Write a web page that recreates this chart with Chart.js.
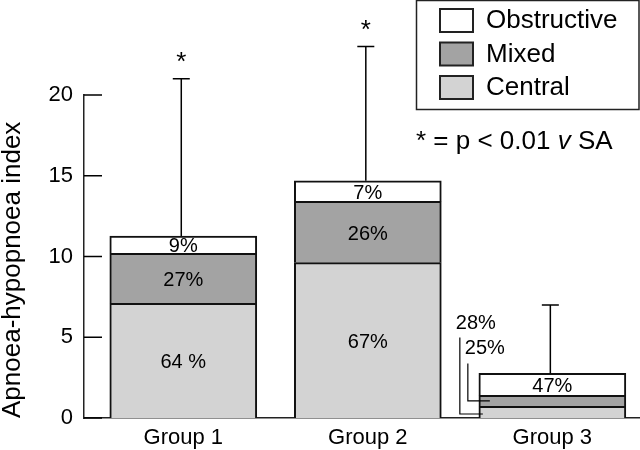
<!DOCTYPE html>
<html>
<head>
<meta charset="utf-8">
<script src="https://cdn.jsdelivr.net/npm/chart.js@4.4.0/dist/chart.umd.min.js"></script>
<style>
  body { margin: 0; background: #fff; overflow: hidden; }
</style>
</head>
<body>
<canvas id="myChart" width="640" height="450"></canvas>
<script>
const groups = ['Group 1', 'Group 2', 'Group 3']
const central = [7.1, 9.62, 0.72]
const mixed = [3.1, 3.79, 0.68]
const obstructive = [1.07, 1.28, 1.36]
const errTop = [21, 23, 7]
const centralPct = ['64 %', '67%', '28%']
const mixedPct = ['27%', '26%', '25%']
const obstructivePct = ['9%', '7%', '47%']
const significant = [true, true, false]
const yTicks = [0, 5, 10, 15, 20]

const FONT = "'Liberation Sans', Arial, sans-serif"
const colors = { central: '#d3d3d3', mixed: '#a3a3a3', obstructive: '#ffffff' }

function points (vals) {
  return vals.map((v, i) => ({ x: i, y: v }))
}

// percentages, leader lines, error bars, inward y ticks
const extras = {
  id: 'extras',
  afterDatasetsDraw (chart) {
    const ctx = chart.ctx
    const y = chart.scales.y
    const area = chart.chartArea
    const metas = [0, 1, 2].map(i => chart.getDatasetMeta(i))
    const pcts = [centralPct, mixedPct, obstructivePct]
    ctx.save()
    ctx.fillStyle = '#000'
    ctx.strokeStyle = '#000'

    ctx.font = '20px ' + FONT
    ctx.textAlign = 'center'
    ctx.textBaseline = 'middle'
    groups.forEach((g, i) => {
      metas.forEach((m, d) => {
        if (i === 2 && d < 2) return
        const bar = m.data[i]
        ctx.fillText(pcts[d][i], bar.x, (bar.y + bar.base) / 2 + 2)
      })
    })

    // small segments of group 3 get leader lines
    const cBar = metas[0].data[2]
    const mBar = metas[1].data[2]
    const top = metas[2].data[2].y
    const left = cBar.x - cBar.width / 2
    ctx.textAlign = 'left'
    ctx.fillText(centralPct[2], left - 23, top - 50)
    ctx.fillText(mixedPct[2], left - 14, top - 25)
    ctx.lineWidth = 1.2
    ctx.beginPath()
    ctx.moveTo(left - 19, top - 36)
    ctx.lineTo(left - 19, cBar.base - 4)
    ctx.lineTo(left + 4, cBar.base - 4)
    const my = (mBar.y + mBar.base) / 2
    ctx.moveTo(left - 11, top - 10)
    ctx.lineTo(left - 11, my)
    ctx.lineTo(left + 11, my)
    ctx.stroke()

    // error bars
    ctx.lineWidth = 1.5
    ctx.font = '26px ' + FONT
    ctx.textAlign = 'center'
    ctx.textBaseline = 'alphabetic'
    metas[2].data.forEach((bar, i) => {
      const ex = bar.x - 2
      const ey = y.getPixelForValue(errTop[i])
      ctx.beginPath()
      ctx.moveTo(ex, bar.y)
      ctx.lineTo(ex, ey)
      ctx.moveTo(ex - 8.5, ey)
      ctx.lineTo(ex + 8.5, ey)
      ctx.stroke()
      if (significant[i]) ctx.fillText('*', ex, ey - 9)
    })

    // tick marks point inward
    ctx.beginPath()
    yTicks.forEach(v => {
      const py = y.getPixelForValue(v)
      ctx.moveTo(area.left, py)
      ctx.lineTo(area.left + 18, py)
    })
    ctx.stroke()
    ctx.restore()
  },
  afterDraw (chart) {
    const ctx = chart.ctx
    ctx.save()
    ctx.strokeStyle = '#222'
    ctx.lineWidth = 1.5
    ctx.strokeRect(416.5, 0.5, 222.5, 109)

    const ds = chart.data.datasets.slice().reverse()
    ctx.font = '26px ' + FONT
    ctx.textAlign = 'left'
    ctx.textBaseline = 'middle'
    ds.forEach((d, k) => {
      const ry = 9 + k * 33.5
      ctx.fillStyle = d.backgroundColor
      ctx.fillRect(440, ry, 33, 23)
      ctx.lineWidth = 2
      ctx.strokeRect(440, ry, 33, 23)
      ctx.fillStyle = '#000'
      ctx.fillText(d.label, 486, ry + 12)
    })

    // significance note
    ctx.textBaseline = 'alphabetic'
    let nx = 416
    const part1 = '* = p < 0.01 '
    ctx.fillText(part1, nx, 149)
    nx += ctx.measureText(part1).width
    ctx.font = 'italic 26px ' + FONT
    ctx.fillText('v', nx, 149)
    nx += ctx.measureText('v').width
    ctx.font = '26px ' + FONT
    ctx.fillText(' SA', nx, 149)
    ctx.restore()
  }
}

const data = {
  datasets: [
    { label: 'Central', data: points(central), backgroundColor: colors.central },
    { label: 'Mixed', data: points(mixed), backgroundColor: colors.mixed },
    { label: 'Obstructive', data: points(obstructive), backgroundColor: colors.obstructive }
  ].map(d => Object.assign(d, { borderColor: '#111', borderWidth: 2, barThickness: 147 }))
}

const config = {
  type: 'bar',
  data: data,
  options: {
    responsive: false,
    animation: false,
    layout: { padding: { top: 95, left: 0, right: 0, bottom: 0 } },
    plugins: {
      legend: { display: false },
      tooltip: { enabled: false }
    },
    scales: {
      x: {
        type: 'linear',
        min: -0.538,
        max: 2.475,
        offset: false,
        stacked: true,
        grid: { display: false, drawTicks: false, offset: false },
        border: { color: '#222', width: 1.5 },
        afterBuildTicks: s => { s.ticks = groups.map((g, i) => ({ value: i })) },
        afterFit: s => { s.height = 32 },
        ticks: {
          callback: v => groups[v],
          autoSkip: false,
          maxRotation: 0,
          padding: 7,
          color: '#000',
          font: { family: FONT, size: 22 }
        }
      },
      y: {
        min: 0,
        max: 20,
        stacked: true,
        grid: { display: false, drawTicks: false },
        border: { color: '#222', width: 1.5 },
        afterFit: s => { s.width = 84 },
        afterBuildTicks: s => { s.ticks = yTicks.map(v => ({ value: v })) },
        ticks: {
          padding: 11,
          color: '#000',
          font: { family: FONT, size: 22 }
        },
        title: {
          display: true,
          text: 'Apnoea-hypopnoea index',
          align: 'start',
          color: '#000',
          padding: 0,
          font: { family: FONT, size: 26, lineHeight: 1 }
        }
      }
    }
  },
  plugins: [extras]
}

var myChart = new Chart(document.getElementById('myChart'), config)
</script>
</body>
</html>
